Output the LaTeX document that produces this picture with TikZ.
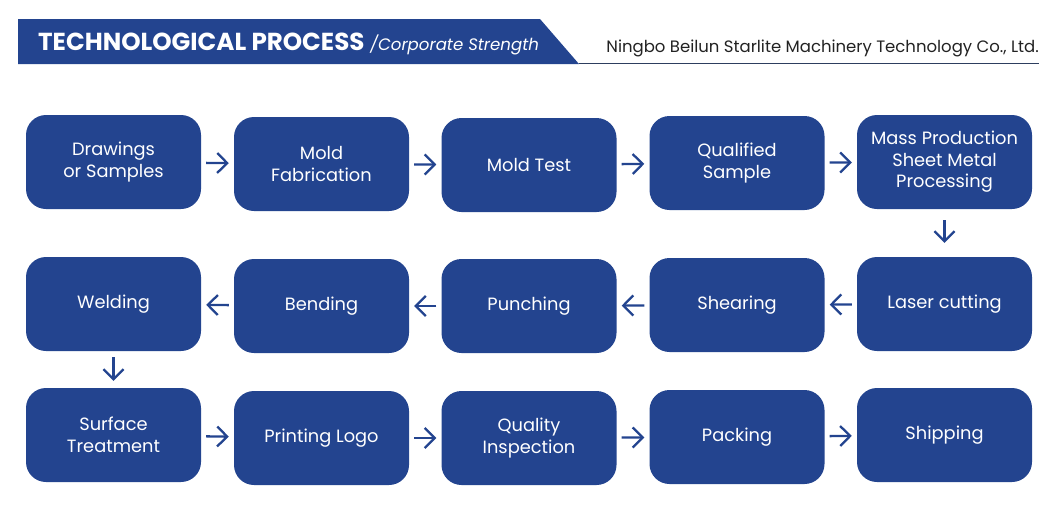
\documentclass[tikz,border=0pt]{standalone}
\usepackage{fontspec}
\setmainfont{Poppins}
\usetikzlibrary{arrows.meta, positioning}
\definecolor{procblue}{RGB}{35,68,143}
\definecolor{rulegray}{RGB}{45,62,95}
\definecolor{namegray}{RGB}{34,34,34}

\begin{document}
\begin{tikzpicture}[
  x=1pt, y=-1pt, >={Straight Barb[length=10pt,width=20pt]},
  every node/.style={font=\fontsize{17.8}{21.5}\selectfont},
  stepbox/.style={fill=procblue, text=white, rounded corners=20pt, minimum width=175pt, minimum height=94pt, align=center},
  flow/.style={->, draw=procblue, line width=2.3pt, shorten <=5pt, shorten >=5pt}
]
  \useasboundingbox (0,0) rectangle (1060,531);
  % header banner
  \fill[procblue] (18,19) -- (540,19) -- (579,64) -- (18,64) -- cycle;
  \draw[rulegray, line width=1pt] (579,63.5) -- (1039,63.5);
  \node[anchor=base west, inner sep=0, text=white, font=\fontsize{24.6}{28}\selectfont\bfseries] (title) at (38,50) {TECHNOLOGICAL PROCESS};
  \node[anchor=base west, inner sep=0, text=white, font=\fontsize{16.6}{20}\selectfont\itshape] (sub) at (370,50) {/Corporate Strength};
  \node[anchor=base east, inner sep=0, text=namegray, font=\fontsize{16.5}{19}\selectfont] (company) at (1039,52) {Ningbo Beilun Starlite Machinery Technology Co., Ltd.};
  % row 1
  \node[stepbox] (draw) at (113.5,162) {Drawings\\or Samples};
  \node[stepbox] (mold) at (321.5,164) {Mold\\Fabrication};
  \node[stepbox] (test) at (529,165) {Mold Test};
  \node[stepbox] (qual) at (737,163) {Qualified\\Sample};
  \node[stepbox] (mass) at (944.5,162) {Mass Production\\Sheet Metal\\Processing};
  % row 2
  \node[stepbox] (laser) at (944.5,304) {Laser cutting};
  \node[stepbox] (shear) at (737,305) {Shearing};
  \node[stepbox] (punch) at (529,306) {Punching};
  \node[stepbox] (bend) at (321.5,306) {Bending};
  \node[stepbox] (weld) at (113.5,304) {Welding};
  % row 3
  \node[stepbox] (surf) at (113.5,435) {Surface\\Treatment};
  \node[stepbox] (logo) at (321.5,438) {Printing Logo};
  \node[stepbox] (insp) at (529,438) {Quality\\Inspection};
  \node[stepbox] (pack) at (737,437) {Packing};
  \node[stepbox] (ship) at (944.5,435) {Shipping};
  % arrows
  \draw[flow] (draw) -- (mold); \draw[flow] (mold) -- (test);
  \draw[flow] (test) -- (qual); \draw[flow] (qual) -- (mass);
  \draw[flow, shorten <=11pt, shorten >=14pt] (mass) -- (laser);
  \draw[flow] (laser) -- (shear); \draw[flow] (shear) -- (punch);
  \draw[flow] (punch) -- (bend); \draw[flow] (bend) -- (weld);
  \draw[flow, shorten <=6pt, shorten >=7pt] (weld) -- (surf);
  \draw[flow] (surf) -- (logo); \draw[flow] (logo) -- (insp);
  \draw[flow] (insp) -- (pack); \draw[flow] (pack) -- (ship);
\end{tikzpicture}
\end{document}
